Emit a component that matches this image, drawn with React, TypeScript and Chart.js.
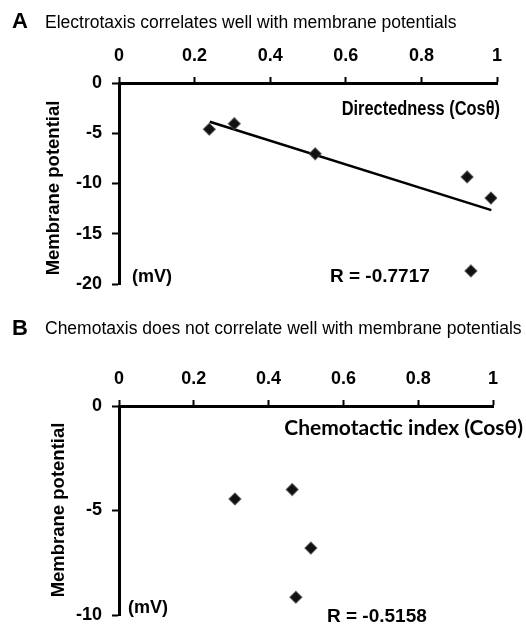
import React, { useEffect, useRef } from "react";
import { Chart, registerables } from "chart.js";

Chart.register(...registerables);

// ---------- data ----------
const xTickValues = [0, 0.2, 0.4, 0.6, 0.8, 1];

// Panel A: electrotaxis
const directedness = [0.239, 0.305, 0.519, 0.921, 0.984, 0.931];
const membraneA = [-4.6, -4.05, -7.05, -9.35, -11.45, -18.7];
const trendX = [0.24, 0.985];
const trendY = [-3.85, -12.65];
const yTicksA = [0, -5, -10, -15, -20];

// Panel B: chemotaxis
const chemotactic = [0.31, 0.463, 0.513, 0.473];
const membraneB = [-4.45, -4.0, -6.8, -9.15];
const yTicksB = [0, -5, -10];

const titleA = "Electrotaxis correlates well with membrane potentials";
const titleB = "Chemotaxis does not correlate well with membrane potentials";
const rA = "R = -0.7717";
const rB = "R = -0.5158";

// ---------- styling ----------
const SANS = '"Liberation Sans", Arial, sans-serif';
const CALIB = 'Lato, "Liberation Sans", sans-serif';

type TextItem = {
  text: string;
  x: number;
  y: number;
  font: string;
  align: CanvasTextAlign;
  rotate?: boolean;
  scaleX?: number;
};

function makeTextPlugin(items: TextItem[]) {
  return {
    id: "panelText",
    afterDraw(chart: any) {
      const ctx: CanvasRenderingContext2D = chart.ctx;
      for (const t of items) {
        ctx.save();
        ctx.fillStyle = "#000";
        ctx.font = t.font;
        ctx.textAlign = t.align;
        ctx.textBaseline = "middle";
        ctx.translate(t.x, t.y);
        if (t.rotate) ctx.rotate(-Math.PI / 2);
        if (t.scaleX) ctx.scale(t.scaleX, 1);
        ctx.fillText(t.text, 0, 0);
        ctx.restore();
      }
    },
  };
}

function makeScales(yTicks: number[], xAxisHeight: number, yAxisWidth: number) {
  const tickFont = { family: SANS, size: 18, weight: "bold" as const };
  return {
    x: {
      type: "linear" as const,
      position: "top" as const,
      min: 0,
      max: 1,
      afterBuildTicks: (s: any) => {
        s.ticks = xTickValues.map((v) => ({ value: v }));
      },
      grid: {
        display: true,
        drawOnChartArea: false,
        drawTicks: true,
        tickLength: 6,
        tickWidth: 2,
        tickColor: "#000",
      },
      border: { display: true, color: "#000", width: 3 },
      ticks: {
        color: "#000",
        font: tickFont,
        padding: 10,
        maxRotation: 0,
        autoSkip: false,
        callback: (v: any) => String(v),
      },
      afterFit: (s: any) => {
        s.height = xAxisHeight;
      },
    },
    y: {
      type: "linear" as const,
      position: "left" as const,
      min: Math.min(...yTicks),
      max: Math.max(...yTicks),
      afterBuildTicks: (s: any) => {
        s.ticks = yTicks.map((v) => ({ value: v }));
      },
      grid: {
        display: true,
        drawOnChartArea: false,
        drawTicks: true,
        tickLength: 7,
        tickWidth: 2,
        tickColor: "#000",
      },
      border: { display: true, color: "#000", width: 3 },
      ticks: {
        color: "#000",
        font: tickFont,
        padding: 10,
        autoSkip: false,
        callback: (v: any) => String(v),
      },
      afterFit: (s: any) => {
        s.width = yAxisWidth;
      },
    },
  };
}

const pointStyle = {
  pointStyle: "rectRot" as const,
  pointRadius: 6,
  pointBackgroundColor: "#111",
  pointBorderColor: "rgba(70,70,70,0.7)",
  pointBorderWidth: 1.2,
  showLine: false,
};

function Panel(props: {
  top: number;
  height: number;
  xs: number[];
  ys: number[];
  yTicks: number[];
  trend?: { x: number[]; y: number[] };
  xAxisHeight: number;
  padRight: number;
  padBottom: number;
  texts: TextItem[];
}) {
  const ref = useRef<HTMLCanvasElement | null>(null);
  useEffect(() => {
    if (!ref.current) return;
    const datasets: any[] = [
      {
        data: props.xs.map((x, i) => ({ x, y: props.ys[i] })),
        ...pointStyle,
        order: 1,
      },
    ];
    if (props.trend) {
      datasets.push({
        data: props.trend.x.map((x, i) => ({ x, y: props.trend!.y[i] })),
        showLine: true,
        borderColor: "#000",
        borderWidth: 2.5,
        pointRadius: 0,
        order: 2,
      });
    }
    const chart = new Chart(ref.current, {
      type: "scatter",
      data: { datasets },
      options: {
        responsive: false,
        maintainAspectRatio: false,
        animation: false,
        devicePixelRatio: 1,
        layout: {
          padding: { left: 0, top: 0, right: props.padRight, bottom: props.padBottom },
        },
        plugins: {
          legend: { display: false },
          tooltip: { enabled: false },
          title: { display: false },
        },
        scales: makeScales(props.yTicks, props.xAxisHeight, 119) as any,
      },
      plugins: [makeTextPlugin(props.texts)],
    });
    return () => chart.destroy();
  }, []);
  return (
    <canvas
      ref={ref}
      width={526}
      height={props.height}
      style={{ position: "absolute", left: 0, top: props.top, width: 526, height: props.height }}
    />
  );
}

export default function App() {
  const textsA: TextItem[] = [
    { text: "A", x: 12, y: 22, font: `bold 22px ${SANS}`, align: "left" },
    { text: titleA, x: 45, y: 23, font: `17.5px ${SANS}`, align: "left" },
    { text: "Directedness (Cos\u03b8)", x: 500, y: 109, font: `bold 20px ${SANS}`, align: "right", scaleX: 0.82 },
    { text: "(mV)", x: 132, y: 277, font: `bold 18px ${SANS}`, align: "left" },
    { text: rA, x: 330, y: 277, font: `bold 19px ${SANS}`, align: "left" },
    { text: "Membrane potential", x: 54, y: 188, font: `bold 18.5px ${SANS}`, align: "center", rotate: true },
  ];
  const textsB: TextItem[] = [
    { text: "B", x: 12, y: 19, font: `bold 22px ${SANS}`, align: "left" },
    { text: titleB, x: 45, y: 19, font: `17.5px ${SANS}`, align: "left" },
    { text: "Chemotactic index (Cos\u03b8)", x: 523, y: 118, font: `bold 21px ${CALIB}`, align: "right" },
    { text: "(mV)", x: 128, y: 298, font: `bold 18px ${SANS}`, align: "left" },
    { text: rB, x: 327, y: 307, font: `bold 19px ${SANS}`, align: "left" },
    { text: "Membrane potential", x: 59, y: 200, font: `bold 18.5px ${SANS}`, align: "center", rotate: true },
  ];
  return (
    <div
      style={{
        position: "fixed",
        left: 0,
        top: 0,
        width: 526,
        height: 626,
        overflow: "hidden",
        background: "#fff",
      }}
    >
      <Panel
        top={0}
        height={310}
        xs={directedness}
        ys={membraneA}
        yTicks={yTicksA}
        trend={{ x: trendX, y: trendY }}
        xAxisHeight={83}
        padRight={29}
        padBottom={26}
        texts={textsA}
      />
      <Panel
        top={310}
        height={332}
        xs={chemotactic}
        ys={membraneB}
        yTicks={yTicksB}
        xAxisHeight={96}
        padRight={33}
        padBottom={27}
        texts={textsB}
      />
    </div>
  );
}
